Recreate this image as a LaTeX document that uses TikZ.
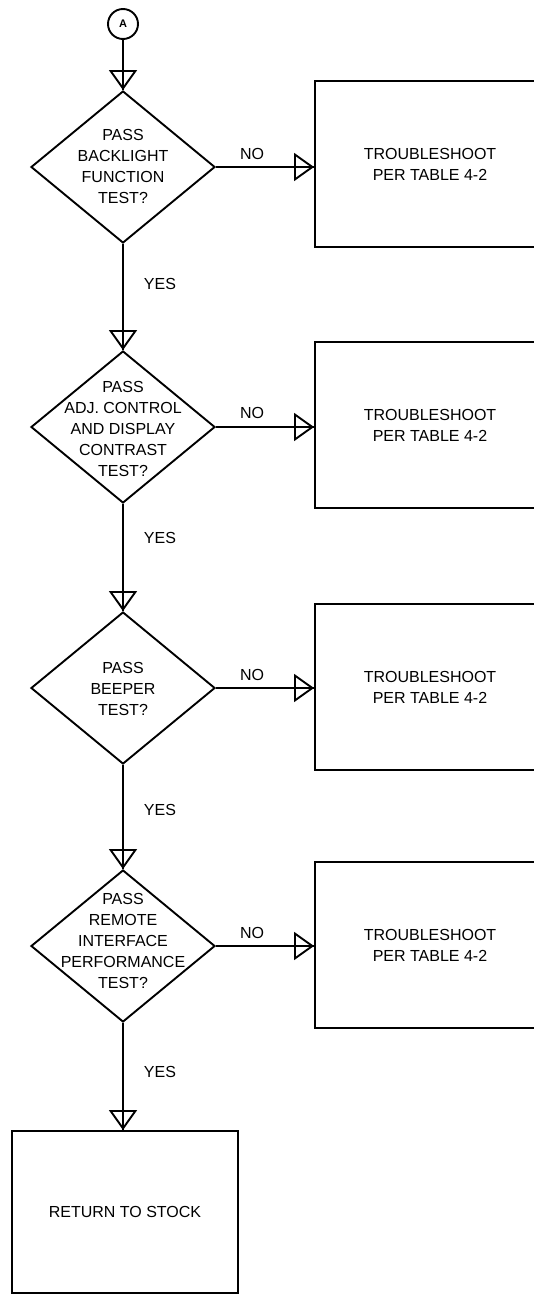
\documentclass[tikz,border=0pt]{standalone}
\usepackage{fontspec}
\setmainfont{Liberation Sans}
\usetikzlibrary{shapes.geometric,arrows.meta}
\newcommand{\flowline}[2]{%
  \draw[tip] (#1) -- (#2);
  \draw (#1) -- (#2);}
\begin{document}
\begin{tikzpicture}[x=1pt,y=-1pt,
  line width=1.9pt,
  txt/.style={font=\fontsize{16}{21}\selectfont, align=center, inner sep=0pt},
  dec/.style={diamond, draw, minimum width=184pt, minimum height=152pt, inner sep=0pt},
  box/.style={rectangle, draw, minimum width=230pt, minimum height=166pt, inner sep=0pt,
              font=\fontsize{16}{21}\selectfont, align=center},
  tip/.style={-{Triangle[open, length=20pt, width=28pt]}},
]
\useasboundingbox (0,0) rectangle (534,1298);
\fill[white] (0,0) rectangle (534,1298);
\clip (0,0) rectangle (534,1298);

% start connector
\node[circle, draw, minimum size=30pt, inner sep=0pt, font=\bfseries\fontsize{11}{11}\selectfont] (A) at (123,24) {A};

% decisions
\node[dec] (d1) at (123,167) {};
\node[txt] (t1) at (123,166) {PASS\\BACKLIGHT\\FUNCTION\\TEST?};
\node[dec] (d2) at (123,427) {};
\node[txt] (t2) at (123,429) {PASS\\ADJ. CONTROL\\AND DISPLAY\\CONTRAST\\TEST?};
\node[dec] (d3) at (123,688) {};
\node[txt] (t3) at (123,689) {PASS\\BEEPER\\TEST?};
\node[dec] (d4) at (123,946) {};
\node[txt] (t4) at (123,941) {PASS\\REMOTE\\INTERFACE\\PERFORMANCE\\TEST?};

% troubleshoot boxes
\node[box] (b1) at (430,164) {TROUBLESHOOT\\PER TABLE 4-2};
\node[box] (b2) at (430,425) {TROUBLESHOOT\\PER TABLE 4-2};
\node[box] (b3) at (430,687) {TROUBLESHOOT\\PER TABLE 4-2};
\node[box] (b4) at (430,945) {TROUBLESHOOT\\PER TABLE 4-2};

% final box
\node[box, minimum width=226pt, minimum height=162pt] (rs) at (125,1212) {RETURN TO STOCK};

% labels
\node[txt] (n1) at (252,154) {NO};
\node[txt] (n2) at (252,413) {NO};
\node[txt] (n3) at (252,675) {NO};
\node[txt] (n4) at (252,933) {NO};
\node[txt] (y1) at (160,284) {YES};
\node[txt] (y2) at (160,538) {YES};
\node[txt] (y3) at (160,810) {YES};
\node[txt] (y4) at (160,1072) {YES};

% connectors
\flowline{A.south}{d1.north}
\flowline{d1.south}{d2.north}
\flowline{d2.south}{d3.north}
\flowline{d3.south}{d4.north}
\flowline{d4.south}{rs.north -| d4.south}
\flowline{d1.east}{b1.west |- d1.east}
\flowline{d2.east}{b2.west |- d2.east}
\flowline{d3.east}{b3.west |- d3.east}
\flowline{d4.east}{b4.west |- d4.east}
\end{tikzpicture}
\end{document}
